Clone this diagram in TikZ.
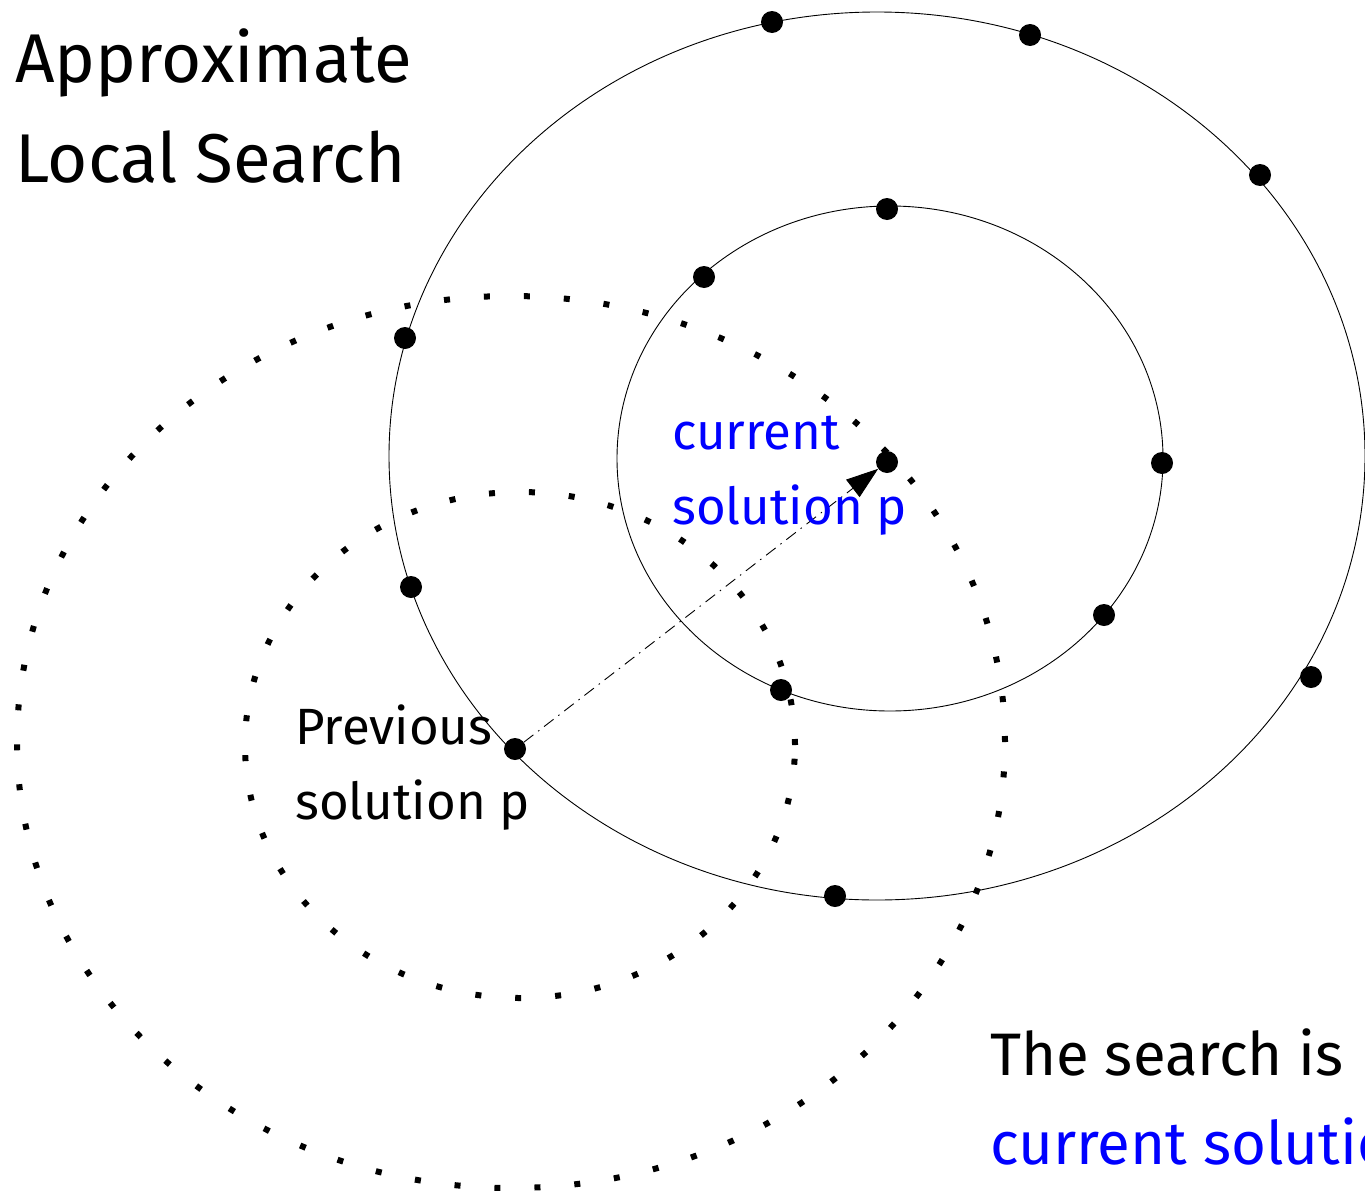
\documentclass[tikz,border=0pt]{standalone}
\usepackage{fontspec}
\setmainfont{Fira Sans}
\usetikzlibrary{arrows.meta}
\definecolor{txtblue}{RGB}{0,0,255}
\tikzset{
  pt/.style={circle,fill=black,inner sep=0pt,minimum size=22pt},
  ring/.style={draw=black,line width=0.9pt},
  dotring/.style={draw=black,line width=6pt,dash pattern=on 6pt off 34pt},
  bigtxt/.style={anchor=base west,inner sep=0pt,font=\fontsize{69}{75}\selectfont},
  midtxt/.style={anchor=base west,inner sep=0pt,font=\fontsize{51}{58}\selectfont},
  lowtxt/.style={anchor=base west,inner sep=0pt,font=\fontsize{60}{66}\selectfont},
  linkarrow/.style={line width=0.9pt,dash pattern=on 12pt off 6pt on 1.5pt off 6pt,
    -{Triangle[length=32pt,width=22pt]}}
}
\begin{document}
\begin{tikzpicture}[x=1pt,y=-1pt]
\useasboundingbox (0,0) rectangle (1365,1191);
\clip (0,0) rectangle (1365,1191);
% solid rings
\draw[ring] (877,456) ellipse [x radius=488pt, y radius=444pt];
\draw[ring] (890,458.5) ellipse [x radius=273pt, y radius=252.5pt];
% dotted rings
\draw[dotring] (520,745) ellipse [x radius=275pt, y radius=253pt];
\draw[dotring] (511,742) ellipse [x radius=494pt, y radius=446pt];
% points on outer ring
\node[pt] (o1) at (772,22) {};
\node[pt] (o2) at (1030,35) {};
\node[pt] (o3) at (1260,175) {};
\node[pt] (o4) at (405,338) {};
\node[pt] (o5) at (411,587) {};
\node[pt] (prev) at (515,749) {};
\node[pt] (o6) at (835,896) {};
\node[pt] (o7) at (1311,677) {};
% points on inner ring
\node[pt] (i1) at (887,209) {};
\node[pt] (i2) at (704,277) {};
\node[pt] (i3) at (1162,463) {};
\node[pt] (i4) at (1104,615) {};
\node[pt] (i5) at (781,690) {};
\node[pt] (cur) at (887,462) {};
% arrow
\draw[linkarrow] (prev) -- (cur);
% texts
\node[bigtxt] (t1) at (15,82) {Approximate};
\node[bigtxt] (t2) at (15,182) {Local Search};
\node[midtxt,text=txtblue] (c1) at (672,449) {current};
\node[midtxt,text=txtblue] (c2) at (672,524) {solution p};
\node[midtxt] (p1) at (295,744) {Previous};
\node[midtxt] (p2) at (295,819) {solution p};
\node[lowtxt] (s1) at (990,1075) {The search is};
\node[lowtxt,text=txtblue] (s2) at (990,1164) {current solution};
\end{tikzpicture}
\end{document}
